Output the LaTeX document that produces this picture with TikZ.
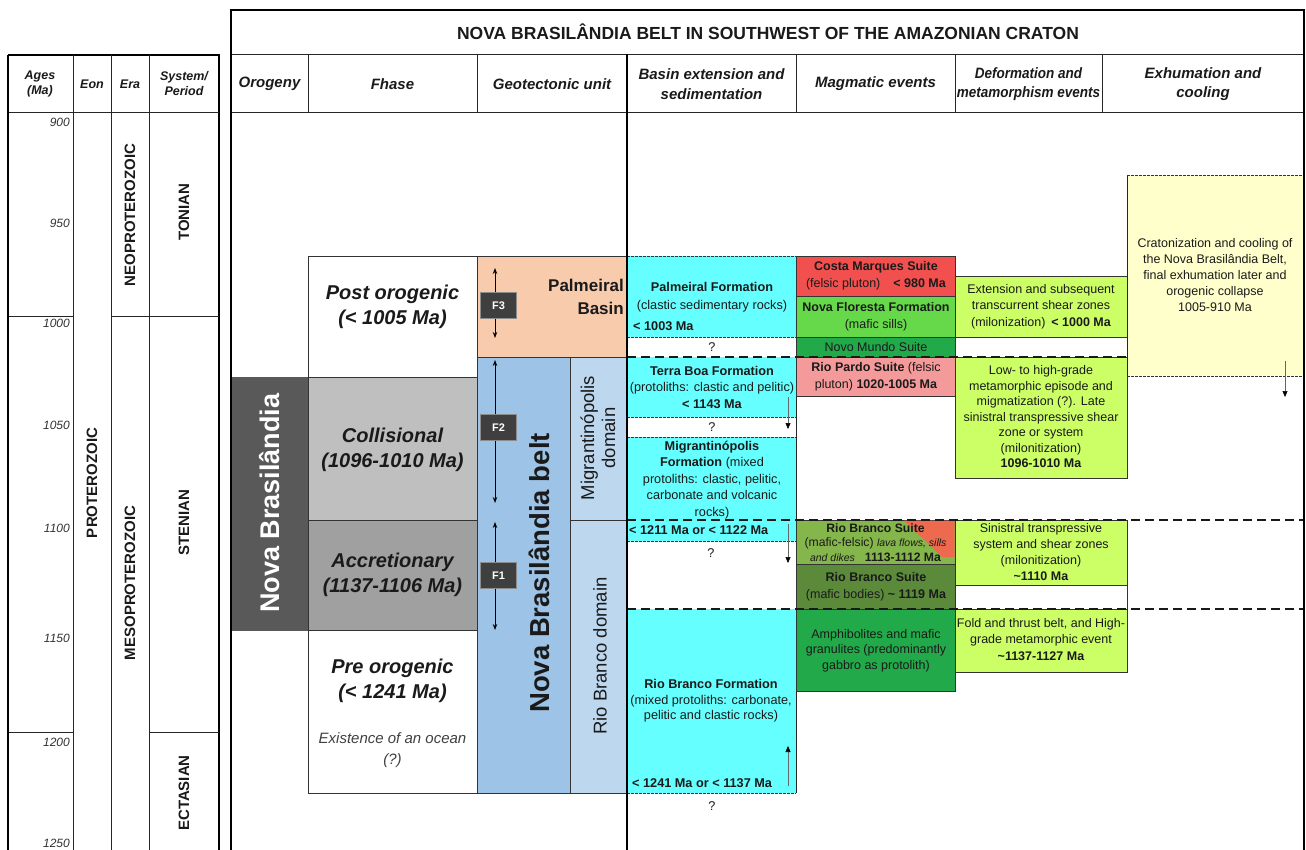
\documentclass[tikz,border=0pt]{standalone}
\usepackage{fontspec}
\setmainfont{Liberation Sans}
\usetikzlibrary{arrows.meta}
\definecolor{tc}{HTML}{1A1A1A}
\definecolor{cDark}{HTML}{595959}
\definecolor{cColl}{HTML}{BFBFBF}
\definecolor{cAccr}{HTML}{A0A0A0}
\definecolor{cPeach}{HTML}{F8CBAD}
\definecolor{cBelt}{HTML}{9DC3E6}
\definecolor{cDom}{HTML}{BDD7EE}
\definecolor{cCyan}{HTML}{66FFFF}
\definecolor{cRed}{HTML}{F24F4F}
\definecolor{cGreen}{HTML}{66D94A}
\definecolor{cGreenB}{HTML}{22AA4A}
\definecolor{cPink}{HTML}{F59A9A}
\definecolor{cOlive}{HTML}{84B64B}
\definecolor{cRedB}{HTML}{EE6A4E}
\definecolor{cDkOlive}{HTML}{5B8A3A}
\definecolor{cYG}{HTML}{CCFF66}
\definecolor{cPale}{HTML}{FFFFCC}
\definecolor{cF}{HTML}{3F3F3F}
\newcommand{\fs}[2]{\fontsize{#1}{#2}\selectfont}
\newcommand{\rbox}[6]{\node[#6, anchor=north west, inner sep=0pt, outer sep=0pt, minimum width={(#4-#2)*1pt}, minimum height={(#5-#3)*1pt}] (#1) at (#2,#3) {};}
\begin{document}
\begin{tikzpicture}[x=1pt,y=-1pt,
  frame/.style={line width=1.8pt, draw=black},
  thinl/.style={line width=0.8pt, draw=black!85},
  bxs/.style={draw=black!80, line width=0.8pt},
  hdr/.style={font=\fs{15}{19.5}\bfseries\itshape, align=center, text=tc, inner sep=0pt},
  lhdr/.style={font=\fs{12.5}{15}\bfseries\itshape, align=center, text=tc, inner sep=0pt},
  txt/.style={font=\fs{12.7}{15.5}, align=center, text=tc, inner sep=0pt},
  ages/.style={font=\fs{12}{14}\itshape, anchor=east, text=black!80, inner sep=0pt},
  eralbl/.style={font=\fs{15}{17}\bfseries, rotate=90, text=tc, inner sep=0pt},
  phase/.style={font=\fs{20}{25}\bfseries\itshape, align=center, text=tc, inner sep=0pt},
  dashthick/.style={line width=2pt, dash pattern=on 9pt off 5pt, draw=black!90},
  dashthin/.style={line width=0.7pt, dash pattern=on 2.5pt off 1.5pt, draw=black!80},
  smallarr/.style={line width=0.6pt, draw=black!60, -{Triangle[length=6pt,width=5pt,fill=black,color=black]}},
  farr/.style={line width=0.9pt, draw=black, {Stealth[length=6pt,width=4.5pt]}-{Stealth[length=6pt,width=4.5pt]}},
  fbox/.style={fill=cF, draw=black!45, line width=0.6pt, text=white, font=\fs{11}{13}\bfseries, minimum width=36pt, minimum height=26pt, inner sep=0pt}
]
\useasboundingbox (0,0) rectangle (1306,850);
\fill[white] (0,0) rectangle (1306,850);

% ---------------- left table ----------------
\draw[line width=1.2pt] (8,55) -- (219,55) -- (219,850);
\draw[thinl] (8,112) -- (219,112);
\draw[thinl] (73,55) -- (73,850);
\draw[thinl] (111,55) -- (111,850);
\draw[thinl] (149,55) -- (149,850);
\draw[thinl] (8,316) -- (73,316);
\draw[thinl] (111,316) -- (219,316);
\draw[thinl] (8,732) -- (73,732);
\draw[thinl] (149,732) -- (219,732);
\draw[line width=2.6pt] (8,55) -- (8,850);

\node[lhdr] (hAges) at (40,84) {Ages\\(Ma)};
\node[lhdr] (hEon) at (92,84) {Eon};
\node[lhdr] (hEra) at (130,84) {Era};
\node[lhdr] (hSys) at (184,84) {System/\\Period};

\node[ages] (a900) at (70,122) {900};
\node[ages] (a950) at (70,223) {950};
\node[ages] (a1000) at (70,323) {1000};
\node[ages] (a1050) at (70,425) {1050};
\node[ages] (a1100) at (70,528) {1100};
\node[ages] (a1150) at (70,638) {1150};
\node[ages] (a1200) at (70,742) {1200};
\node[ages] (a1250) at (70,843) {1250};

\node[eralbl] (eProt) at (92,483) {PROTEROZOIC};
\node[eralbl] (eNeo) at (130,215) {NEOPROTEROZOIC};
\node[eralbl] (eMeso) at (130,583) {MESOPROTEROZOIC};
\node[eralbl] (pTon) at (184,212) {TONIAN};
\node[eralbl] (pSte) at (184,523) {STENIAN};
\node[eralbl] (pEct) at (184,793) {ECTASIAN};

% ---------------- right table: boxes ----------------
\rbox{nb}{231}{377}{308}{630}{fill=cDark, draw=cDark}
\rbox{post}{308}{256}{477}{377}{bxs, fill=white}
\rbox{coll}{308}{377}{477}{520}{bxs, fill=cColl}
\rbox{accr}{308}{520}{477}{630}{bxs, fill=cAccr}
\rbox{pre}{308}{630}{477}{793}{bxs, fill=white}
\rbox{palb}{477}{256}{627}{357}{bxs, fill=cPeach}
\rbox{belt}{477}{357}{570}{793}{bxs, fill=cBelt}
\rbox{migd}{570}{357}{627}{520}{bxs, fill=cDom}
\rbox{rbd}{570}{520}{627}{793}{bxs, fill=cDom}
\rbox{palf}{627}{256}{796}{337}{fill=cCyan}
\rbox{tbf}{627}{357}{796}{417}{fill=cCyan}
\rbox{mgf}{627}{437}{796}{520}{fill=cCyan}
\rbox{band}{627}{520}{796}{541}{fill=cCyan}
\rbox{rbf}{627}{609}{796}{793}{fill=cCyan}
\draw[thinl] (796,256) -- (796,793);
\foreach \yy in {256,337,417,437,541,793} { \draw[dashthin] (627,\yy) -- (796,\yy); }
\rbox{cm}{796}{256}{955}{296}{bxs, fill=cRed}
\rbox{nf}{796}{296}{955}{337}{bxs, fill=cGreen}
\rbox{nm}{796}{337}{955}{357}{bxs, fill=cGreenB}
\rbox{rp}{796}{357}{955}{396}{bxs, fill=cPink}
\rbox{rbs1}{796}{520}{955}{564}{bxs, fill=cOlive}
\fill[cRedB] (904,520.5) -- (954.6,520.5) -- (954.6,557) -- (942,557) -- cycle;
\rbox{rbs2}{796}{564}{955}{609}{bxs, fill=cDkOlive}
\rbox{amp}{796}{609}{955}{691}{bxs, fill=cGreenB}
\rbox{ext}{955}{276}{1127}{337}{bxs, fill=cYG}
\rbox{low}{955}{357}{1127}{478}{bxs, fill=cYG}
\rbox{sin}{955}{520}{1127}{585}{bxs, fill=cYG}
\rbox{sinw}{955}{585}{1127}{609}{bxs, fill=white}
\rbox{fold}{955}{609}{1127}{672}{bxs, fill=cYG}
\rbox{exh}{1127}{175}{1304}{376}{fill=cPale}
\draw[thinl] (1127,175) -- (1127,376);
\draw[dashthin] (1127,175) -- (1304,175);
\draw[dashthin] (1127,376) -- (1304,376);

\draw[dashthick] (627,357) -- (1127,357);
\draw[dashthick] (627,520) -- (1304,520);
\draw[dashthick] (627,609) -- (1304,609);

% ---------------- frame ----------------
\draw[thinl] (231,54) -- (1304,54);
\draw[thinl] (231,112) -- (1304,112);
\foreach \xx in {308,477,796,955,1102} { \draw[thinl] (\xx,54) -- (\xx,112); }
\draw[line width=2.2pt] (627,54) -- (627,850);
\draw[frame] (231,850) -- (231,10) -- (1304,10) -- (1304,850);

\node[font=\fs{17.5}{20}\bfseries, text=tc, inner sep=0pt] (title) at (768,32) {NOVA BRASILÂNDIA BELT IN SOUTHWEST OF THE AMAZONIAN CRATON};
\node[hdr] (hOro) at (269.5,84) {Orogeny};
\node[hdr] (hFha) at (392.5,84) {Fhase};
\node[hdr] (hGeo) at (552,84) {Geotectonic unit};
\node[hdr] (hBas) at (711.5,84) {Basin extension and\\sedimentation};
\node[hdr] (hMag) at (875.5,84) {Magmatic events};
\node[hdr] (hDef) at (1028.5,84) {\scalebox{0.9}[1]{Deformation and}\\\scalebox{0.9}[1]{metamorphism events}};
\node[hdr] (hExh) at (1203,84) {Exhumation and\\cooling};

% ---------------- texts ----------------
\node[font=\fs{27}{30}\bfseries, text=white, rotate=90, inner sep=0pt] (tnb) at (270,503) {Nova Brasilândia};

\node[phase] (tpost) at (392.5,307) {Post orogenic\\(< 1005 Ma)};
\node[phase] (tcoll) at (392.5,449.5) {Collisional\\(1096-1010 Ma)};
\node[phase] (taccr) at (392.5,575) {Accretionary\\(1137-1106 Ma)};
\node[phase] (tpre) at (392.5,680.5) {Pre orogenic\\(< 1241 Ma)};
\node[txt, font=\fs{15}{21}\itshape, text=black!75] (tocean) at (392.5,750) {Existence of an ocean\\(?)};

\node[font=\fs{17}{23}\bfseries, align=right, anchor=east, text=tc, inner sep=0pt] (tpalb) at (624,297) {Palmeiral\\Basin};
\node[font=\fs{27.5}{30}\bfseries, rotate=90, text=tc, inner sep=0pt] (tbelt) at (539,573) {Nova Brasilândia belt};
\node[font=\fs{18.5}{21}, rotate=90, align=center, text=tc, inner sep=0pt] (tmigd) at (598,438) {Migrantinópolis\\domain};
\node[font=\fs{18.5}{21}, rotate=90, text=tc, inner sep=0pt] (trbd) at (600,656) {Rio Branco domain};

% F arrows
\coordinate (f3a) at (495,268); \coordinate (f3b) at (495,338);
\draw[farr] (f3a) -- (f3b);
\node[fbox] (f3) at (498.5,305.5) {F3};
\coordinate (f2a) at (495,360); \coordinate (f2b) at (495,503);
\draw[farr] (f2a) -- (f2b);
\node[fbox] (f2) at (498.5,427.5) {F2};
\coordinate (f1a) at (495,522); \coordinate (f1b) at (495,630);
\draw[farr] (f1a) -- (f1b);
\node[fbox] (f1) at (498.5,575.5) {F1};

% basin texts
\node[txt, font=\fs{12.7}{18}] (tpalf) at (712,297) {\textbf{Palmeiral Formation}\\(clastic sedimentary rocks)};
\node[txt, anchor=west, font=\fs{12.7}{15}\bfseries] (tpalfa) at (633,326) {< 1003 Ma};
\node[txt] (q1) at (712,347) {?};
\node[txt, font=\fs{12.7}{16.5}] (ttbf) at (712,387) {\textbf{Terra Boa Formation}\\(protoliths: clastic and pelitic)\\\textbf{< 1143 Ma}};
\node[txt] (q2) at (712,427) {?};
\node[txt, font=\fs{12.7}{16.5}] (tmgf) at (712,480) {\textbf{Migrantinópolis}\\\textbf{Formation} (mixed\\protoliths: clastic, pelitic,\\carbonate and volcanic\\rocks)};
\node[txt, anchor=west, font=\fs{12.7}{15}\bfseries] (tband) at (629,530) {< 1211 Ma or < 1122 Ma};
\node[txt] (q3) at (711,553) {?};
\node[txt, font=\fs{12.7}{15.5}] (trbf) at (711,701) {\textbf{Rio Branco Formation}\\(mixed protoliths: carbonate,\\pelitic and clastic rocks)};
\node[txt, anchor=west, font=\fs{12.7}{15}\bfseries] (trbfa) at (632,783) {< 1241 Ma or < 1137 Ma};
\node[txt] (q4) at (712,806) {?};

\coordinate (ar1a) at (788,397); \coordinate (ar1b) at (788,429);
\draw[smallarr] (ar1a) -- (ar1b);
\coordinate (ar2a) at (788,524); \coordinate (ar2b) at (788,563);
\draw[smallarr] (ar2a) -- (ar2b);
\coordinate (ar3a) at (788,786); \coordinate (ar3b) at (788,746);
\draw[smallarr] (ar3a) -- (ar3b);
\coordinate (ar4a) at (1285,361); \coordinate (ar4b) at (1285,397);
\draw[smallarr] (ar4a) -- (ar4b);

% magmatic texts
\node[txt, font=\fs{12.5}{17}] (tcm) at (876,275.5) {\textbf{Costa Marques Suite}\\(felsic pluton)\hspace{13pt}\textbf{< 980 Ma}};
\node[txt, font=\fs{12.5}{17}] (tnf) at (876,316.5) {\textbf{Nova Floresta Formation}\\(mafic sills)};
\node[txt, font=\fs{12.5}{15}] (tnm) at (876,347) {Novo Mundo Suite};
\node[txt, font=\fs{12.5}{17}] (trp) at (876,376.5) {\textbf{Rio Pardo Suite} (felsic\\pluton) \textbf{1020-1005 Ma}};
\node[txt, font=\fs{12.2}{14.5}] (trbs1) at (875.5,542.5) {\textbf{Rio Branco Suite}\\(mafic-felsic) {\fs{10.5}{14.5}\itshape lava flows, sills}\\{\fs{10.5}{14.5}\itshape and dikes}\hspace{10pt}\textbf{1113-1112 Ma}};
\node[txt, font=\fs{12.5}{17}] (trbs2) at (876,586.5) {\textbf{Rio Branco Suite}\\(mafic bodies) \textbf{\textasciitilde\ 1119 Ma}};
\node[txt, font=\fs{12.5}{15.5}] (tamp) at (876,650.5) {Amphibolites and mafic\\granulites (predominantly\\gabbro as protolith)};

% deformation texts
\node[txt, font=\fs{12.5}{16.5}] (text) at (1041,306.5) {Extension and subsequent\\transcurrent shear zones\\(milonization)\hspace{6pt}\textbf{< 1000 Ma}};
\node[txt, font=\fs{12.5}{15.5}] (tlow) at (1041,417) {Low- to high-grade\\metamorphic episode and\\migmatization (?).\hspace{5pt}Late\\sinistral transpressive shear\\zone or system\\(milonitization)\\\textbf{1096-1010 Ma}};
\node[txt, font=\fs{12.5}{16}] (tsin) at (1041,552) {Sinistral transpressive\\system and shear zones\\(milonitization)\\\textbf{\textasciitilde1110 Ma}};
\node[txt, font=\fs{12.5}{16.5}] (tfold) at (1041,639.5) {Fold and thrust belt, and High-\\grade metamorphic event\\\textbf{\textasciitilde1137-1127 Ma}};

% exhumation
\node[txt, font=\fs{12.5}{16}] (texh) at (1215,275) {Cratonization and cooling of\\the Nova Brasilândia Belt,\\final exhumation later and\\orogenic collapse\\1005-910 Ma};
\end{tikzpicture}
\end{document}
